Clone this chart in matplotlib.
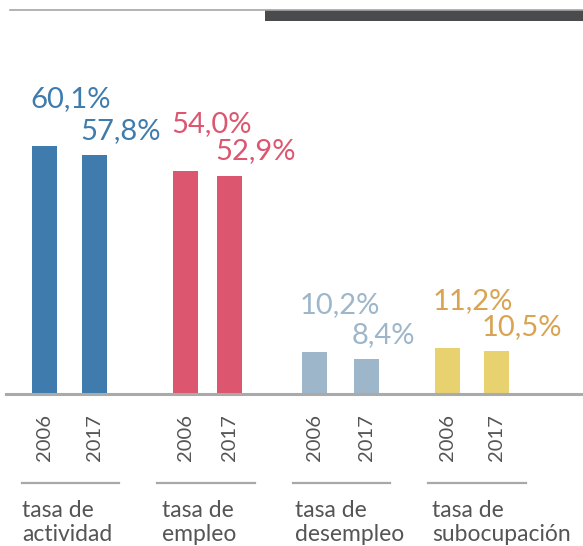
import matplotlib
matplotlib.use('Agg')
import matplotlib.pyplot as plt
from matplotlib.lines import Line2D
from matplotlib.patches import Rectangle

plt.rcParams['font.family'] = ['Lato', 'DejaVu Sans']

# data
groups = ['tasa de\nactividad', 'tasa de\nempleo', 'tasa de\ndesempleo', 'tasa de\nsubocupación']
years = ['2006', '2017']
values = [[60.1, 57.8], [54.0, 52.9], [10.2, 8.4], [11.2, 10.5]]
labels = [['60,1%', '57,8%'], ['54,0%', '52,9%'], ['10,2%', '8,4%'], ['11,2%', '10,5%']]

bar_colors = ['#3f7cad', '#dc5670', '#9db6ca', '#e8d270']
text_colors = ['#3f7cad', '#dc5670', '#9db6ca', '#d9a352']

# layout (pixels, figure is 583x546)
W, H = 583, 546
bar_left = [[32, 82], [173, 217], [302, 354], [435, 484]]
bar_w = 25
base_py = 394          # baseline, pixels from top
px_per_unit = 4.13
line_x = [(22, 119), (157, 255), (293, 390), (428, 526)]
name_x = [22, 162, 295, 432]
label_off = [39, 16]   # px above bar top, per year

fig = plt.figure(figsize=(W / 100, H / 100), dpi=100)
ax = fig.add_axes([0, 0, 1, 1])
ax.set_xlim(0, W)
ax.set_ylim(-(H - base_py) / px_per_unit, base_py / px_per_unit)
ax.axis('off')


def fy(py):
    return 1 - py / H


for g in range(len(groups)):
    for k in range(len(years)):
        x0 = bar_left[g][k]
        v = values[g][k]
        ax.bar(x0, v, width=bar_w, align='edge', color=bar_colors[g], zorder=2)
        ax.annotate(labels[g][k], (x0 - 2, v), xytext=(0, label_off[k] * 0.72),
                    textcoords='offset points', ha='left', va='baseline',
                    fontsize=21, color=text_colors[g], fontweight='normal')
        # year label
        fig.text((x0 + bar_w / 2) / W, fy(414), years[k], rotation=90,
                 ha='center', va='top', fontsize=14.5, color='#555555')
    a, b = line_x[g]
    fig.add_artist(Line2D([a / W, b / W], [fy(483), fy(483)], color='#a8a8a8', lw=1.6))
    fig.text(name_x[g] / W, fy(500), groups[g], ha='left', va='top',
             fontsize=16.5, color='#555555', linespacing=1.18)

# baseline
fig.add_artist(Line2D([6 / W, 1], [fy(394), fy(394)], color='#aaaaaa', lw=2.2, zorder=3))

# decorative top rules
fig.add_artist(Line2D([10 / W, 1], [fy(9.5), fy(9.5)], color='#a5a5a5', lw=1.2))
fig.add_artist(Rectangle((265 / W, fy(21)), 1 - 265 / W, 11 / H,
                         transform=fig.transFigure, color='#4a4b4d', lw=0))

fig.savefig('out.png', dpi=100)
